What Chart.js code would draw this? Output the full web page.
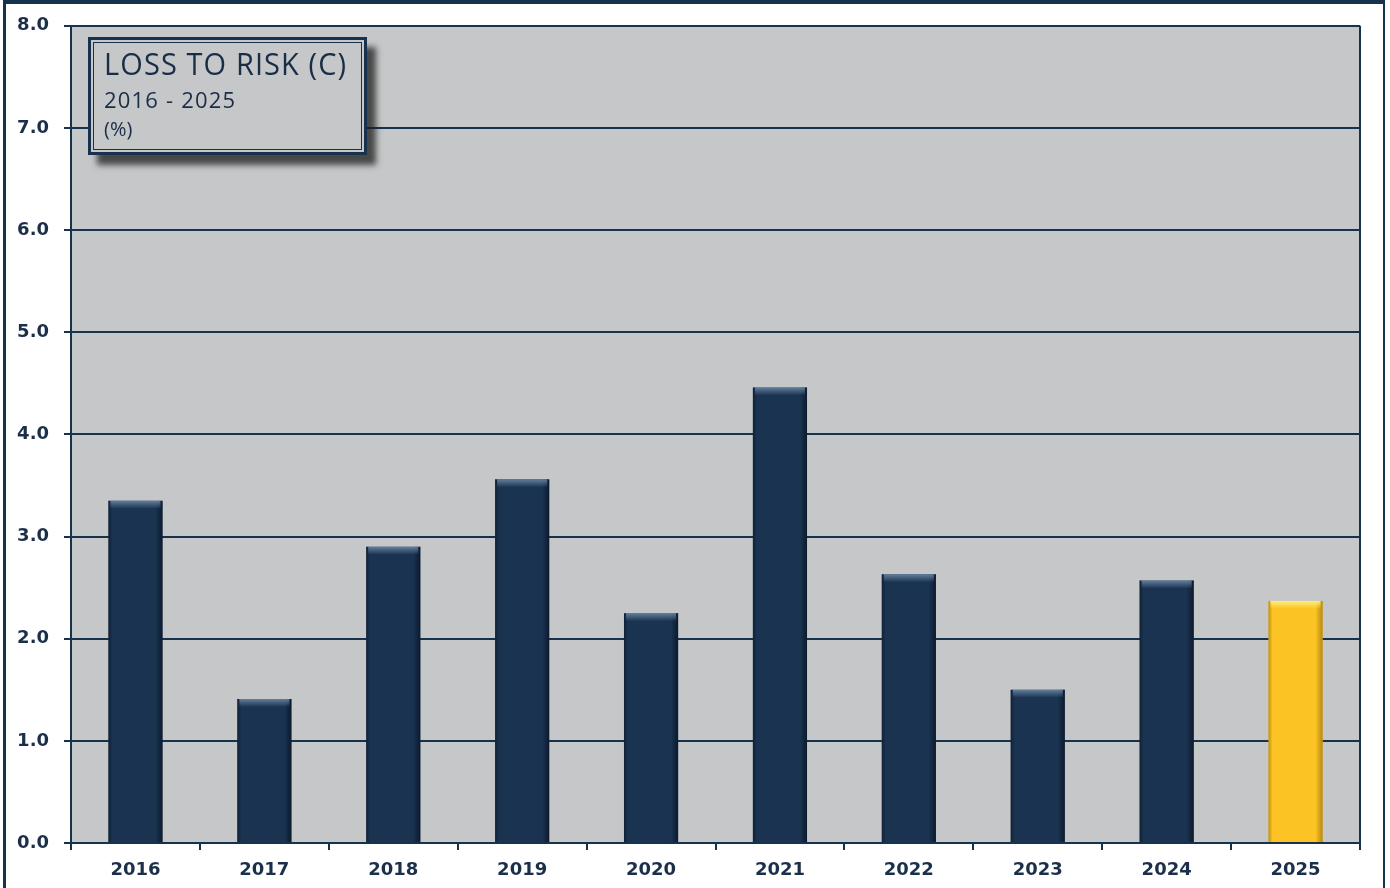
<!DOCTYPE html>
<html>
<head>
<meta charset="utf-8">
<script src="https://cdn.jsdelivr.net/npm/chart.js@4"></script>
<style>
  html, body { margin: 0; padding: 0; background: #ffffff; overflow: hidden; }
  #wrap { position: relative; width: 1390px; height: 888px; }
  #frame { position: absolute; left: 3px; top: 0; width: 1377px; height: 900px;
           border-left: 3px solid #17324d; border-right: 2px solid #17324d; border-top: 4px solid #17324d; }
  canvas { position: absolute; left: 0; top: 0; }
  #titlebox { position: absolute; left: 88px; top: 37px; width: 273px; height: 112px;
              border: 3px solid #17324d; background: #c6c7c9;
              box-shadow: 9px 10px 6px rgba(30,30,30,0.75); }
  #titlebox .inner { position: absolute; left: 2px; top: 2px; right: 2px; bottom: 2px; border: 1px solid #17324d; }
  #titlebox .t { position: absolute; left: 13px; white-space: nowrap; color: #1a2d47;
                 font-family: "Open Sans", sans-serif; line-height: 1; }
  #t1 { top: 7px; font-size: 29px; letter-spacing: 1.1px; transform: scaleY(1.08); transform-origin: left top; }
  #t2 { top: 48px; font-size: 22px; letter-spacing: 1.2px; }
  #t3 { top: 79px; font-size: 20px; }
</style>
</head>
<body>
<div id="wrap">
  <div id="frame"></div>
  <canvas id="c" width="1390" height="888"></canvas>
  <div id="titlebox"><div class="inner"></div>
    <div class="t" id="t1">LOSS TO RISK (C)</div>
    <div class="t" id="t2">2016 - 2025</div>
    <div class="t" id="t3">(%)</div>
  </div>
</div>
<script>
const categories = ["2016","2017","2018","2019","2020","2021","2022","2023","2024","2025"];
const lossToRisk = [3.35, 1.41, 2.90, 3.56, 2.25, 4.46, 2.63, 1.50, 2.57, 2.37];
const yTicks = [0, 1, 2, 3, 4, 5, 6, 7, 8];

const NAVY = "#17324d";
const BAR = "#1a3350";
const GOLD = "#fcc324";
const barColors = categories.map((c, i) => i === categories.length - 1 ? GOLD : BAR);

const plotBg = {
  id: "plotBg",
  beforeDraw(chart) {
    const { ctx, chartArea: a } = chart;
    ctx.save();
    ctx.fillStyle = "#c6c7c9";
    ctx.fillRect(a.left, a.top, a.right - a.left, a.bottom - a.top);
    ctx.restore();
  },
  afterDraw(chart) {
    const { ctx, chartArea: a } = chart;
    ctx.save();
    ctx.strokeStyle = NAVY;
    ctx.lineWidth = 2;
    ctx.beginPath();
    ctx.moveTo(a.right, a.top);
    ctx.lineTo(a.right, a.bottom);
    ctx.stroke();
    ctx.restore();
  }
};

const bevel = {
  id: "bevel",
  afterDatasetsDraw(chart) {
    const { ctx } = chart;
    const meta = chart.getDatasetMeta(0);
    meta.data.forEach((bar, i) => {
      const gold = i === categories.length - 1;
      const l = bar.x - bar.width / 2, r = bar.x + bar.width / 2, t = bar.y, b = bar.base;
      ctx.save();
      let g = ctx.createLinearGradient(r - 7, 0, r, 0);
      g.addColorStop(0, gold ? "rgba(150,110,10,0)" : "rgba(5,15,30,0)");
      g.addColorStop(1, gold ? "rgba(150,110,10,0.7)" : "rgba(5,15,30,0.7)");
      ctx.fillStyle = g;
      ctx.fillRect(r - 7, t, 7, b - t);
      g = ctx.createLinearGradient(l, 0, l + 4, 0);
      g.addColorStop(0, gold ? "rgba(150,110,10,0.6)" : "rgba(5,15,30,0.5)");
      g.addColorStop(1, gold ? "rgba(150,110,10,0)" : "rgba(5,15,30,0)");
      ctx.fillStyle = g;
      ctx.fillRect(l, t, 4, b - t);
      g = ctx.createLinearGradient(0, t, 0, t + 8);
      g.addColorStop(0, gold ? "rgba(255,240,130,0.95)" : "rgba(110,140,170,0.85)");
      g.addColorStop(1, gold ? "rgba(255,240,130,0)" : "rgba(110,140,170,0)");
      ctx.fillStyle = g;
      ctx.fillRect(l + 2, t, bar.width - 4, 8);
      ctx.restore();
    });
  }
};

new Chart(document.getElementById("c"), {
  type: "bar",
  data: {
    labels: categories,
    datasets: [{
      data: lossToRisk,
      backgroundColor: barColors,
      borderWidth: 0,
      barPercentage: 0.42,
      categoryPercentage: 1.0
    }]
  },
  options: {
    responsive: false,
    animation: false,
    devicePixelRatio: 1,
    layout: { padding: { left: 0, top: 25, right: 30, bottom: 0 } },
    plugins: { legend: { display: false }, tooltip: { enabled: false }, title: { display: false } },
    scales: {
      x: {
        offset: true,
        grid: { display: true, drawOnChartArea: false, drawTicks: true, tickLength: 7, color: NAVY, lineWidth: 2, offset: true },
        border: { display: true, color: NAVY, width: 2 },
        ticks: { color: "#1c2f4a", font: { family: "DejaVu Sans", weight: "bold", size: 18 }, padding: 10, maxRotation: 0 },
        afterFit(s) { s.height = 45; }
      },
      y: {
        min: 0, max: 8,
        afterBuildTicks(s) { s.ticks = yTicks.map(v => ({ value: v })); },
        grid: { color: NAVY, lineWidth: 2, tickLength: 7, drawTicks: true },
        border: { display: true, color: NAVY, width: 2 },
        ticks: { color: "#1c2f4a", font: { family: "DejaVu Sans", weight: "bold", size: 18 }, padding: 15,
                 callback: v => Number(v).toFixed(1) },
        afterFit(s) { s.width = 71; }
      }
    }
  },
  plugins: [plotBg, bevel]
});
</script>
</body>
</html>
